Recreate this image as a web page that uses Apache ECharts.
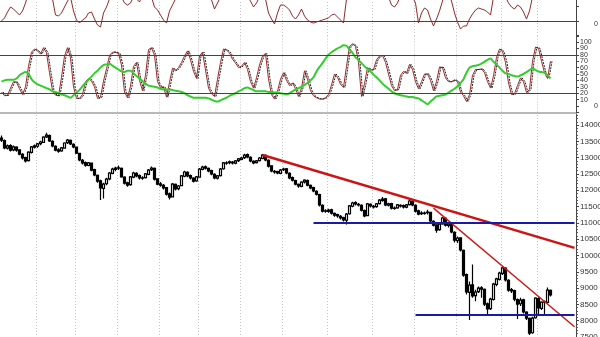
<!DOCTYPE html>
<html><head><meta charset="utf-8">
<script src="https://cdn.jsdelivr.net/npm/echarts@6/dist/echarts.min.js"></script>
<style>html,body{margin:0;padding:0;background:#fff}#c{width:600px;height:337px}</style>
</head><body><div id="c"></div>
<script>
// ---- data ----
const categories = Array.from({length:192},(_,i)=>'D'+(i+1));
const monthStarts = [12,25,39,53,66,80,94,109,124,138,152,167,179];

const opens = [
13600,13520,13290,13370,13240,13320,13240,13100,13000,12910,
13160,13320,13350,13430,13470,13640,13680,13500,13350,13240,
13210,13290,13460,13530,13410,13320,13130,12920,12850,12760,
12830,12630,12460,12290,12060,12200,12350,12520,12640,12690,
12670,12400,12230,12170,12400,12520,12450,12370,12390,12490,
12630,12670,12350,12200,12150,12080,11890,11800,12180,12050,
12140,12430,12550,12450,12370,12290,12400,12640,12720,12670,
12600,12490,12370,12450,12660,12830,12850,12860,12830,12910,
12950,13000,13090,13010,12890,12850,12910,12980,13070,12920,
12750,12580,12570,12520,12630,12660,12520,12390,12300,12180,
12120,12260,12300,12150,12080,11970,11870,11540,11370,11350,
11400,11290,11250,11200,11160,11080,11280,11510,11620,11570,
11540,11380,11220,11570,11510,11500,11590,11690,11740,11540,
11590,11440,11460,11540,11530,11480,11560,11660,11540,11370,
11280,11290,11310,11320,11050,10940,10790,10970,11140,10920,
10970,10710,10460,10540,10160,9410,8870,9100,8770,8890,
9010,8960,8520,8370,8650,9110,9270,9450,9610,9240,
8950,8920,8650,8520,8640,8260,8070,7630,8090,8680,
8380,8580,8560,8930];
const closes = [
13540,13300,13360,13230,13330,13230,13110,12990,12900,13170,
13330,13360,13420,13480,13630,13690,13510,13360,13230,13200,
13300,13450,13540,13420,13330,13140,12930,12840,12770,12840,
12620,12470,12280,12070,12190,12340,12530,12650,12680,12680,
12410,12220,12160,12410,12530,12440,12380,12380,12500,12620,
12680,12340,12190,12160,12070,11880,11790,12190,12040,12130,
12440,12560,12440,12380,12280,12410,12650,12710,12680,12590,
12500,12380,12440,12650,12840,12840,12870,12840,12900,12960,
12990,13080,13020,12900,12840,12900,12990,13080,12930,12740,
12590,12560,12530,12620,12650,12530,12380,12310,12190,12130,
12250,12310,12160,12070,11980,11880,11550,11360,11360,11390,
11300,11240,11210,11150,11090,11270,11520,11610,11580,11550,
11390,11210,11580,11520,11490,11580,11700,11730,11550,11580,
11450,11450,11550,11520,11490,11550,11670,11550,11360,11270,
11300,11300,11330,11060,10930,10780,10960,11150,10930,10960,
10720,10470,10530,10170,9400,8880,9090,8760,8880,9000,
8970,8510,8360,8660,9120,9280,9460,9620,9250,8940,
8910,8660,8510,8630,8270,8080,7620,8080,8690,8390,
8570,8570,8940,8790];
const lows = [
13480,13260,13250,13190,13200,13180,13070,12940,12850,12880,
13130,13280,13300,13380,13450,13600,13480,13320,13200,13150,
13180,13270,13420,13390,13290,13110,12890,12790,12720,12740,
12580,12430,12230,11700,11750,12150,12310,12490,12580,12620,
12380,12180,12110,12140,12370,12400,12330,12320,12360,12460,
12590,12300,12150,12110,12020,11840,11720,11780,11990,12000,
12120,12400,12400,12330,12240,12260,12380,12610,12640,12550,
12460,12340,12330,12420,12630,12780,12800,12790,12800,12870,
12920,12960,12980,12860,12800,12820,12880,12950,12890,12700,
12550,12510,12490,12490,12590,12490,12340,12270,12150,12080,
12090,12210,12120,12030,11940,11840,11500,11320,11310,11310,
11260,11190,11160,11100,11040,10950,11250,11480,11530,11500,
11350,11170,11200,11470,11440,11460,11560,11650,11510,11500,
11410,11400,11430,11470,11440,11450,11530,11510,11320,11230,
11240,11250,11260,11020,10890,10700,10760,10940,10890,10860,
10680,10400,10380,10120,9350,8800,8020,8700,8600,8850,
8700,8450,8170,8330,8620,9060,9230,9400,9200,8890,
8850,8600,8050,8450,8220,8020,7560,7600,8060,8180,
8330,8180,8530,8740];
const highs = [
13680,13560,13400,13410,13370,13350,13260,13140,13030,13200,
13360,13400,13450,13520,13660,13760,13710,13530,13380,13290,
13330,13470,13570,13560,13440,13340,13150,12960,12880,12870,
12850,12660,12480,12320,12230,12380,12560,12690,12720,12760,
12700,12430,12260,12440,12570,12550,12480,12430,12530,12650,
12730,12700,12370,12250,12190,12100,11930,12220,12210,12160,
12470,12600,12580,12480,12400,12440,12680,12750,12760,12700,
12630,12520,12470,12680,12870,12890,12910,12900,12930,12990,
13030,13120,13130,13040,12920,12930,13020,13110,13100,12950,
12770,12620,12600,12650,12690,12680,12550,12420,12320,12210,
12280,12340,12330,12180,12110,12000,11890,11570,11420,11430,
11430,11320,11280,11240,11190,11300,11550,11650,11660,11610,
11570,11410,11610,11600,11550,11610,11730,11790,11760,11620,
11620,11500,11580,11570,11560,11580,11710,11690,11570,11400,
11360,11350,11400,11340,11080,10960,11000,11180,11170,11000,
10990,10740,10580,10560,10180,9450,9200,9720,8950,9050,
9060,8990,8560,8700,9160,9320,9500,9650,9640,9270,
9000,8950,8680,8700,8670,8290,8100,8120,8720,8720,
8600,8620,9020,8960];

const stochK = [
22,16,17,28,38,37,27,18,30,62,
84,89,86,81,91,83,52,24,17,16,
45,78,91,75,30,12,12,18,38,43,
39,30,12,14,39,58,79,84,84,82,
64,22,13,31,62,68,40,24,48,88,
91,79,38,29,30,14,37,59,55,60,
68,78,86,72,54,43,78,84,56,28,
19,15,42,68,89,87,83,73,67,60,
62,68,57,38,28,44,64,78,82,42,
18,11,23,42,52,40,32,36,27,15,
28,55,42,24,16,13,11,11,13,18,
33,50,45,34,29,62,93,97,93,68,
15,35,60,56,57,72,78,79,68,50,
32,24,26,48,54,51,65,57,38,27,
38,50,50,40,24,38,61,60,44,38,
38,41,38,22,16,7,18,48,57,57,
58,52,38,28,47,76,89,85,68,36,
18,19,32,44,38,21,26,70,92,90,
70,52,43,70];
const stochSlow = [
38,40,41,41,41,43,48,51,53,50,
42,37,34,32,30,28,26,23,22,20,
18,17,15,13,17,21,25,31,36,41,
46,51,55,60,64,65,66,63,60,57,
54,53,55,55,51,47,43,39,35,32,
31,30,29,27,26,26,26,25,24,23,
22,20,17,15,13,13,13,13,13,12,
10,8,7,9,11,13,16,18,20,23,
25,28,29,27,25,23,23,23,23,22,
22,21,21,20,19,18,20,23,26,28,
30,33,36,40,45,54,61,67,74,80,
84,87,90,92,95,94,88,83,76,72,
67,62,58,54,49,45,40,35,31,27,
23,20,18,17,16,15,14,14,13,12,
9,6,3,7,11,15,16,17,18,21,
24,27,31,36,42,52,60,62,63,64,
66,69,72,74,69,65,60,55,51,50,
48,47,46,48,50,53,56,59,56,54,
53,52,48,43];
const oscillator = [
0,3,9,14,12,9,6,10,18,28,
34,38,36,40,44,38,30,22,6,5,
8,14,20,24,10,1,-2,1,3,8,
9,2,-4,-6,8,14,22,30,34,30,
24,18,16,18,24,22,19,26,32,30,
24,14,11,6,1,-2,10,16,22,30,
36,40,34,38,30,36,42,38,30,24,
21,12,18,24,30,34,40,36,32,38,
34,28,24,20,14,18,24,28,22,8,
2,-3,8,16,16,14,11,5,2,6,
12,5,1,-1,-2,-1,0,1,2,3,
6,7,4,1,-2,22,34,40,42,36,
30,38,34,40,44,36,30,34,28,24,
16,14,18,26,34,30,26,24,18,-2,
8,13,11,2,-5,2,10,20,30,26,
20,8,-1,-8,-5,-5,2,7,11,13,
12,11,9,6,24,32,36,30,24,18,
14,12,16,14,9,2,10,24,34,40,
36,30,34,38];

const stochLevels = [80, 20];
const oscLevel = [0];
// trend lines: [startIndex, startPrice, endIndex, endPrice]
const trendLines = [[87,13080,191,10232],[144,11450,191,7813]];
// support levels: [startIndex, price]
const supportLines = [[104,10990],[138,8170]];
const lastIndex = 191;

// ---- chart ----
const candles = opens.map((o,i)=>[o,closes[i],lows[i],highs[i]]);
const navy = '#3b3b82';
const gridLine = {show:true, interval:(i)=>monthStarts.includes(i), lineStyle:{color:'#c4c4c4', type:[1,2], width:1}};
function xAx(idx, opts){
  return Object.assign({type:'category', gridIndex:idx, data:categories, boundaryGap:true,
    axisLine:{show:false, onZero:false}, axisTick:{show:false}, axisLabel:{show:false}, splitLine:gridLine}, opts||{});
}
const labelBase = {color:'#333', fontFamily:'Liberation Sans, Arial, sans-serif', margin:4, align:'left'};
const chart = echarts.init(document.getElementById('c'), null, {renderer:'canvas'});
chart.setOption({
  animation:false,
  backgroundColor:'#fff',
  grid:[
    {left:0, top:-40, width:576, height:76, containLabel:false, outerBoundsMode:'none'},
    {left:0, top:35.5, width:576, height:77, containLabel:false, outerBoundsMode:'none'},
    {left:1.5, top:35.5, width:576, height:77, containLabel:false, outerBoundsMode:'none'},
    {left:0, top:112, width:576, height:225, containLabel:false, outerBoundsMode:'none'}
  ],
  xAxis:[
    xAx(0),
    xAx(1,{axisLine:{show:true, onZero:false, lineStyle:{color:'#b8b8b8', width:2}}}),
    xAx(2,{splitLine:{show:false}}),
    xAx(3)
  ],
  yAxis:[
    {type:'value', gridIndex:0, position:'right', min:-15, max:61, interval:15,
     axisLine:{show:true, lineStyle:{color:'#444'}}, axisTick:{show:true, length:3, lineStyle:{color:'#444'}},
     splitLine:{show:false},
     axisLabel:Object.assign({}, labelBase, {fontSize:7, padding:[6,0,0,0],
       formatter:(v)=> v===0 ? '{z|0}' : '', rich:{z:{fontSize:7, color:'#333', padding:[0,0,0,14]}}})},
    {type:'value', gridIndex:1, position:'right', min:-10, max:110, interval:10,
     axisLine:{show:true, lineStyle:{color:'#444'}}, axisTick:{show:true, length:3, lineStyle:{color:'#444'}},
     splitLine:{show:false},
     axisLabel:Object.assign({}, labelBase, {fontSize:7,
       formatter:(v)=> (v<0||v>100) ? '' : (v===0 ? '{z|0}' : String(v)),
       rich:{z:{fontSize:7, color:'#333', padding:[0,0,0,14]}}})},
    {type:'value', gridIndex:2, position:'right', min:-10, max:110, show:false},
    {type:'value', gridIndex:3, position:'right', min:7500, max:14400, interval:500,
     axisLine:{show:true, lineStyle:{color:'#444'}}, axisTick:{show:true, length:3, lineStyle:{color:'#444'}},
     minorTick:{show:true, splitNumber:5, length:2, lineStyle:{color:'#555'}},
     splitLine:{show:false},
     axisLabel:Object.assign({}, labelBase, {fontSize:8,
       formatter:(v)=> v%500===0 ? String(v) : ''})}
  ],
  series:[
    {type:'line', xAxisIndex:0, yAxisIndex:0, data:oscillator, symbol:'none', z:3,
     lineStyle:{color:'#8e2b2b', width:1},
     markLine:{silent:true, symbol:['none','none'], label:{show:false},
       lineStyle:{color:navy, width:1, type:'solid'}, data:oscLevel.map(v=>({yAxis:v}))}},
    {type:'line', xAxisIndex:1, yAxisIndex:1, data:stochK, symbol:'none', z:3,
     lineStyle:{color:'#9c2a2a', width:1},
     markLine:{silent:true, symbol:['none','none'], label:{show:false},
       lineStyle:{color:navy, width:1, type:'solid'}, data:stochLevels.map(v=>({yAxis:v}))}},
    {type:'line', xAxisIndex:2, yAxisIndex:2, data:stochK, symbol:'none', z:3,
     lineStyle:{color:'#222', width:1, type:[2,1]}},
    {type:'line', xAxisIndex:1, yAxisIndex:1, data:stochSlow, symbol:'none', z:4, smooth:0.3,
     lineStyle:{color:'#34cc2e', width:2}},
    {type:'candlestick', xAxisIndex:3, yAxisIndex:3, data:candles, barWidth:2, z:3,
     itemStyle:{color:'#ffffff', color0:'#000000', borderColor:'#000000', borderColor0:'#000000', borderWidth:1.2},
     markLine:{silent:true, symbol:['none','none'], label:{show:false}, z:5,
       data:[
         [{coord:[trendLines[0][0],trendLines[0][1]], lineStyle:{color:'#cc1414', width:2.5, type:'solid'}},
          {coord:[trendLines[0][2],trendLines[0][3]]}],
         [{coord:[trendLines[1][0],trendLines[1][1]], lineStyle:{color:'#cc1e1e', width:1.5, type:'solid'}},
          {coord:[trendLines[1][2],trendLines[1][3]]}],
         [{coord:[supportLines[0][0],supportLines[0][1]], lineStyle:{color:'#1a1aa8', width:2, type:'solid'}},
          {coord:[lastIndex,supportLines[0][1]]}],
         [{coord:[supportLines[1][0],supportLines[1][1]], lineStyle:{color:'#1a1aa8', width:2, type:'solid'}},
          {coord:[lastIndex,supportLines[1][1]]}]
       ]}}
  ]
});
</script></body></html>
